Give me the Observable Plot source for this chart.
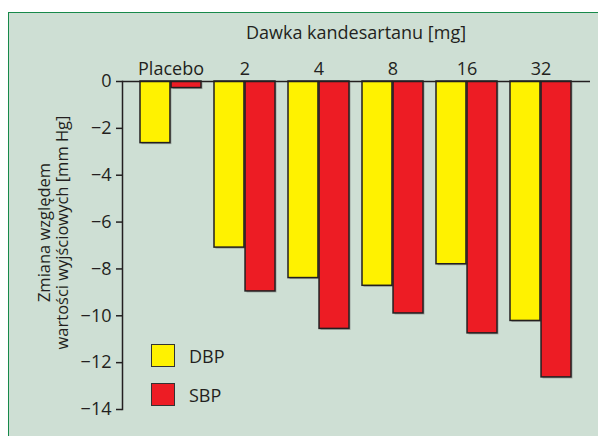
<!DOCTYPE html>
<html>
<head>
<meta charset="utf-8">
<script src="https://cdn.jsdelivr.net/npm/d3@7"></script>
<script src="https://cdn.jsdelivr.net/npm/@observablehq/plot@0.6"></script>
<style>
  html, body { margin: 0; padding: 0; background: #fff; }
  body { width: 598px; height: 436px; position: relative; overflow: hidden; font-family: "Open Sans", sans-serif; }
  #panel { position: absolute; left: 8px; top: 12px; width: 620px; height: 460px;
    background: #cedfd4; border-left: 1.5px solid #17894a; border-top: 1.5px solid #17894a; }
  #title { position: absolute; left: 122px; width: 468px; top: 20px; text-align: center;
    font-size: 18px; color: #231f20; line-height: 24px; }
  #chart { position: absolute; left: 0; top: 0; }
  .leg { position: absolute; left: 151px; width: 22px; height: 21px; border: 1.5px solid #333; }
  .legt { position: absolute; left: 189px; font-size: 18px; color: #231f20; line-height: 22px; }
</style>
</head>
<body>
<div id="panel"></div>
<div id="title">Dawka kandesartanu [mg]</div>
<div id="chart"></div>
<div class="leg" style="top:344px;background:#fff200"></div>
<div class="legt" style="top:345px">DBP</div>
<div class="leg" style="top:383px;background:#ed1c24"></div>
<div class="legt" style="top:384px">SBP</div>
<script>
const groups = ["Placebo", "2", "4", "8", "16", "32"];
const dbp = [-2.63, -7.09, -8.39, -8.72, -7.80, -10.22];
const sbp = [-0.28, -8.96, -10.56, -9.90, -10.75, -12.63];
const yTicks = [0, -2, -4, -6, -8, -10, -12, -14];
const seriesNames = ["DBP", "SBP"];
const seriesColors = ["#fff200", "#ed1c24"];

const dataD = groups.map((g, i) => ({group: g, value: dbp[i]}));
const dataS = groups.map((g, i) => ({group: g, value: sbp[i]}));

const W = 598, H = 436, mL = 122, mR = 8, mT = 81, mB = 27;
const pIn = 0.17, pOut = 0.214;
const step = (W - mL - mR) / (groups.length - pIn + 2 * pOut);
const half = step * (1 - pIn) / 2;

const ink = "#231f20";
const plot = Plot.plot({
  width: W, height: H,
  marginLeft: mL, marginRight: mR, marginTop: mT, marginBottom: mB,
  style: {background: "transparent", fontFamily: "Open Sans, sans-serif", fontSize: "18px", color: ink},
  x: {domain: groups, paddingInner: pIn, paddingOuter: pOut, axis: null},
  y: {domain: [-14, 0], ticks: yTicks, axis: null},
  marks: [
    // shadows
    Plot.barY(dataD, {x: "group", y: "value", insetRight: half, fill: "#7a7f7c", fillOpacity: 0.6, dx: 1.5, dy: 1.5}),
    Plot.barY(dataS, {x: "group", y: "value", insetLeft: half, fill: "#7a7f7c", fillOpacity: 0.6, dx: 1.5, dy: 1.5}),
    Plot.barY(dataD, {x: "group", y: "value", insetRight: half, fill: seriesColors[0], stroke: ink, strokeWidth: 1.5, title: () => seriesNames[0]}),
    Plot.barY(dataS, {x: "group", y: "value", insetLeft: half, fill: seriesColors[1], stroke: ink, strokeWidth: 1.5, title: () => seriesNames[1]}),
    Plot.frame({anchor: "left", stroke: ink, strokeWidth: 1.5}),
    Plot.ruleY([0], {stroke: ink, strokeWidth: 1.5}),
    Plot.axisX({anchor: "top", tickSize: 0, tickPadding: 7, label: null, fontSize: 18}),
    Plot.axisY({anchor: "left", ticks: yTicks, tickSize: 6, tickPadding: 5, strokeWidth: 1.5, label: null, fontSize: 18}),
    Plot.text(["Zmiana względem\nwartości wyjściowych [mm Hg]"], {
      frameAnchor: "left", textAnchor: "middle", lineAnchor: "middle", rotate: -90,
      dx: -69, dy: -13, lineHeight: 1.05, fontSize: 16.5, fill: ink
    })
  ]
});
document.getElementById("chart").appendChild(plot);
</script>
</body>
</html>
